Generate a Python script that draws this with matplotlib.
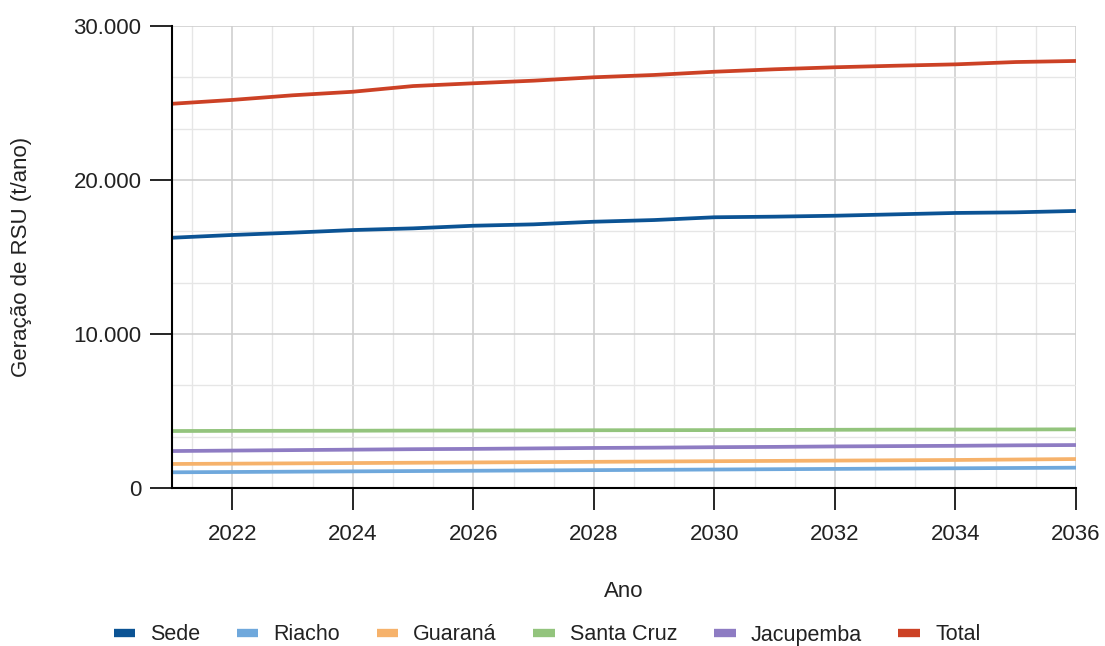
import matplotlib.pyplot as plt
import numpy as np
from matplotlib.ticker import FuncFormatter
from matplotlib.lines import Line2D

plt.rcParams['font.family'] = ['Liberation Sans', 'DejaVu Sans']

anos = list(range(2021, 2037))
sede = [16250, 16430, 16580, 16750, 16860, 17030, 17120, 17290,
        17400, 17580, 17620, 17680, 17770, 17860, 17900, 17990]
riacho = [1020, 1040, 1060, 1080, 1100, 1120, 1140, 1160,
          1180, 1200, 1220, 1240, 1260, 1280, 1300, 1320]
guarana = [1560, 1580, 1600, 1620, 1640, 1660, 1680, 1700,
           1720, 1740, 1760, 1780, 1800, 1820, 1850, 1880]
santa_cruz = [3700, 3710, 3715, 3720, 3730, 3735, 3740, 3750,
              3755, 3760, 3770, 3780, 3790, 3795, 3800, 3810]
jacupemba = [2400, 2430, 2460, 2490, 2520, 2540, 2570, 2600,
             2620, 2650, 2670, 2700, 2720, 2740, 2770, 2790]
total = [24950, 25200, 25500, 25730, 26100, 26280, 26450, 26670,
         26820, 27030, 27190, 27320, 27420, 27510, 27660, 27730]

nomes = ['Sede', 'Riacho', 'Guaraná', 'Santa Cruz', 'Jacupemba', 'Total']
cores = ['#0b5394', '#6fa8dc', '#f6b26b', '#93c47d', '#8e7cc3', '#cc4125']
series = [sede, riacho, guarana, santa_cruz, jacupemba, total]

fig = plt.figure(figsize=(11.05, 6.46), dpi=100)
ax = fig.add_axes([172/1105, 1-488/646, (1076-172)/1105, (488-26)/646])

for s, c in zip(series, cores):
    ax.plot(anos, s, color=c, lw=2.7, solid_capstyle='butt')

ax.set_xlim(2021, 2036)
ax.set_ylim(0, 30000)
ax.set_xticks(range(2022, 2037, 2))
ax.set_xticks([x for x in np.arange(2021 + 1/3, 2036.1, 2/3)
               if abs(x - round(x)) > 0.01 or round(x) % 2], minor=True)
ax.set_yticks([0, 10000, 20000, 30000])
ax.set_yticks([v for v in np.arange(0, 30001, 10000/3) if round(v) % 10000], minor=True)
ax.yaxis.set_major_formatter(FuncFormatter(lambda v, p: f"{int(v):,}".replace(',', '.')))

ax.grid(which='major', color='#cfcfcf', lw=1.2)
ax.grid(which='minor', color='#e6e6e6', lw=1.0)
ax.set_axisbelow(True)

for sp in ['top', 'right']:
    ax.spines[sp].set_visible(False)
for sp in ['left', 'bottom']:
    ax.spines[sp].set_color('black')
    ax.spines[sp].set_linewidth(1.5)

ax.tick_params(which='major', direction='out', length=16, width=1.2,
               color='black', labelsize=16, labelcolor='#222222', pad=6)
ax.tick_params(which='minor', length=0)
ax.tick_params(axis='x', pad=10)

ax.set_xlabel('Ano', fontsize=16, color='#222222', labelpad=26)
ax.set_ylabel('Geração de RSU (t/ano)', fontsize=16, color='#222222', labelpad=30)

handles = [Line2D([0], [0], color=c, lw=6, solid_capstyle='butt') for c in cores]
fig.legend(handles, nomes, loc='center', bbox_to_anchor=(0.495, 1-635/646),
           ncol=6, frameon=False, fontsize=15.5, handlelength=1.0,
           columnspacing=1.7, handletextpad=0.7, labelcolor='#222222')

fig.savefig('out.png', dpi=100)
